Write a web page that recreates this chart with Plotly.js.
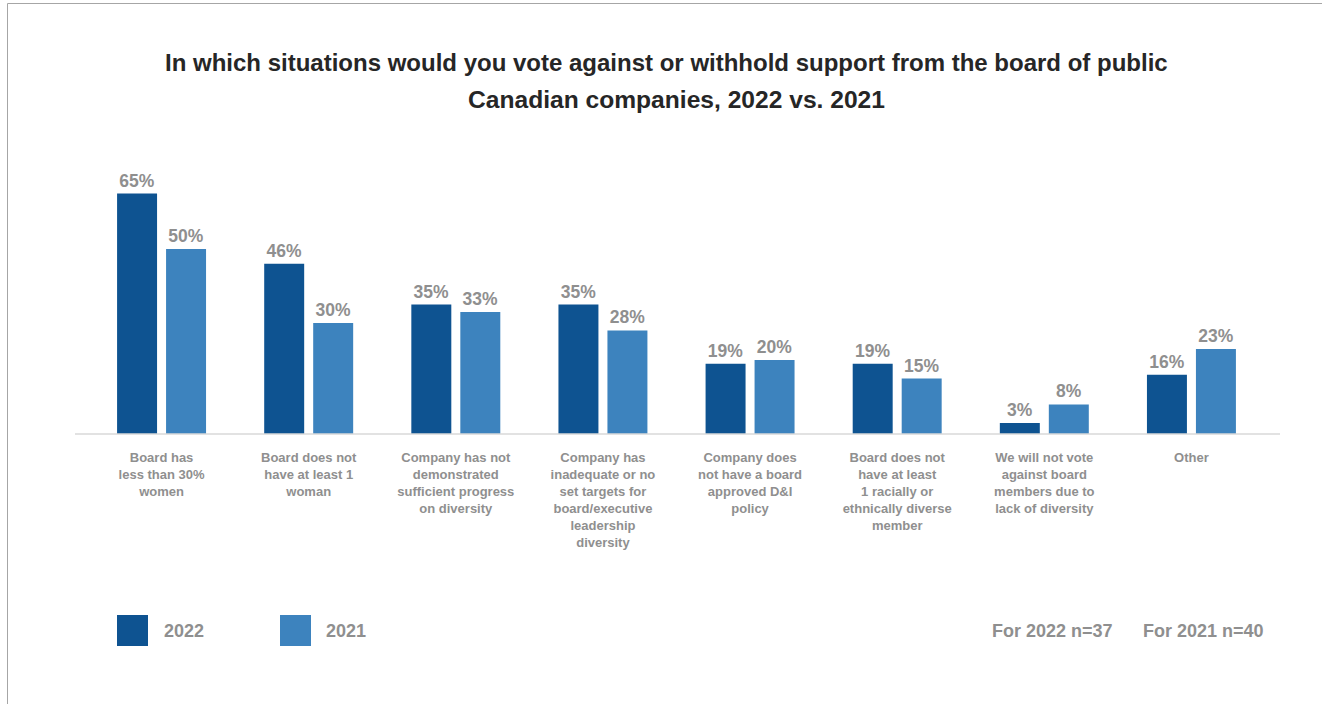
<!DOCTYPE html>
<html>
<head>
<meta charset="utf-8">
<script src="https://cdn.plot.ly/plotly-3.0.1.min.js"></script>
<style>
  html, body { margin: 0; padding: 0; background: #ffffff; }
  #chart { width: 1322px; height: 704px; }
</style>
</head>
<body>
<div id="chart"></div>
<script>
// ---- Data ----
const categories = [
  "Board has less than 30% women",
  "Board does not have at least 1 woman",
  "Company has not demonstrated sufficient progress on diversity",
  "Company has inadequate or no set targets for board/executive leadership diversity",
  "Company does not have a board approved D&I policy",
  "Board does not have at least 1 racially or ethnically diverse member",
  "We will not vote against board members due to lack of diversity",
  "Other"
];
const tickLabels = [
  "Board has<br>less than 30%<br>women",
  "Board does not<br>have at least 1<br>woman",
  "Company has not<br>demonstrated<br>sufficient progress<br>on diversity",
  "Company has<br>inadequate or no<br>set targets for<br>board/executive<br>leadership<br>diversity",
  "Company does<br>not have a board<br>approved D&I<br>policy",
  "Board does not<br>have at least<br>1 racially or<br>ethnically diverse<br>member",
  "We will not vote<br>against board<br>members due to<br>lack of diversity",
  "Other"
];
const values2022 = [65, 46, 35, 35, 19, 19, 3, 16];
const values2021 = [50, 30, 33, 28, 20, 15, 8, 23];
const seriesNames = ["2022", "2021"];
const sampleNotes = ["For 2022 n=37", "For 2021 n=40"];
const titleLines = [
  "In which situations would you vote against or withhold support from the board of public",
  "Canadian companies, 2022 vs. 2021"
];

// ---- Style ----
const FONT = "Liberation Sans, Arial, Helvetica, sans-serif";
const DARK = "#0e5391";
const LIGHT = "#3d83be";
const GRAY = "#8f8f8f";

// plot domain geometry (pixels)
const L = 88, R = 57, T = 175, B = 270;
const PW = 1322 - L - R, PH = 704 - T - B;
const px = x => (x - L) / PW;          // pixel x -> paper x
const py = y => (704 - B - y) / PH;    // pixel y -> paper y

const mkBar = (name, vals, color) => ({
  type: "bar",
  name: name,
  x: categories,
  y: vals,
  marker: { color: color },
  texttemplate: "%{y}%",
  textposition: "outside",
  cliponaxis: false,
  textfont: { family: FONT, size: 17.5, color: GRAY, weight: "bold" },
  hoverinfo: "x+y"
});

const traces = [
  mkBar(seriesNames[0], values2022, DARK),
  mkBar(seriesNames[1], values2021, LIGHT)
];

const titleAnn = (text, x, y, size) => ({
  text: text, x: px(x), y: py(y), xref: "paper", yref: "paper",
  xanchor: "center", yanchor: "middle", showarrow: false,
  font: { family: FONT, size: size, color: "#262626", weight: "bold" }
});
const annotations = [
  titleAnn(titleLines[0], 666.5, 62, 24),
  titleAnn(titleLines[1], 676.5, 100, 24.6)
];

const smallAnn = (text, x, y) => ({
  text: text, x: px(x), y: py(y), xref: "paper", yref: "paper",
  xanchor: "left", yanchor: "middle", showarrow: false,
  font: { family: FONT, size: 18, color: GRAY, weight: "bold" }
});
annotations.push(smallAnn(seriesNames[0], 162, 631));
annotations.push(smallAnn(seriesNames[1], 324, 631));
annotations.push(smallAnn(sampleNotes[0], 990, 631));
annotations.push(smallAnn(sampleNotes[1], 1141, 631));

const shapes = [
  // axis baseline
  { type: "line", xref: "paper", yref: "paper", x0: px(75), x1: px(1280), y0: 0, y1: 0,
    line: { color: "#d9d9d9", width: 1.5 } },
  // frame border (top & left)
  { type: "line", xref: "paper", yref: "paper", x0: px(7.5), x1: px(1322), y0: py(3.5), y1: py(3.5),
    line: { color: "#a6a6a6", width: 1 } },
  { type: "line", xref: "paper", yref: "paper", x0: px(7.5), x1: px(7.5), y0: py(3.5), y1: py(704),
    line: { color: "#a6a6a6", width: 1 } },
  // legend swatches
  { type: "rect", xref: "paper", yref: "paper", x0: px(117), x1: px(148), y0: py(615), y1: py(646),
    fillcolor: DARK, line: { width: 0 } },
  { type: "rect", xref: "paper", yref: "paper", x0: px(280), x1: px(311), y0: py(615), y1: py(646),
    fillcolor: LIGHT, line: { width: 0 } }
];

const layout = {
  width: 1322, height: 704,
  margin: { l: L, r: R, t: T, b: B, pad: 0 },
  paper_bgcolor: "#ffffff", plot_bgcolor: "#ffffff",
  showlegend: false,
  barmode: "group",
  bargap: 0.334,
  bargroupgap: 0.184,
  font: { family: FONT },
  xaxis: {
    type: "category",
    categoryorder: "array",
    categoryarray: categories,
    tickvals: categories,
    ticktext: tickLabels,
    ticks: "",
    showline: false,
    showgrid: false,
    zeroline: false,
    tickangle: 0,
    ticklabelstandoff: 14,
    tickfont: { family: FONT, size: 13, color: GRAY, weight: "bold" }
  },
  yaxis: {
    range: [0, 70],
    visible: false,
    showgrid: false,
    zeroline: false,
    fixedrange: true
  },
  annotations: annotations,
  shapes: shapes
};

Plotly.newPlot("chart", traces, layout, { displayModeBar: false, staticPlot: true });
</script>
</body>
</html>
